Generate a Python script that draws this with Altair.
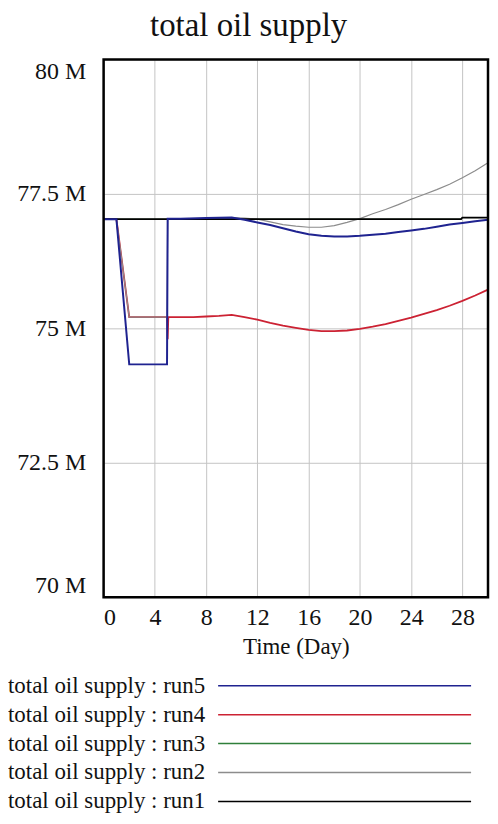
import altair as alt
import pandas as pd

# ---- data (values in millions) ----
run1_t = [0, 27.9, 28.0, 30]
run1_v = [77.03, 77.03, 77.06, 77.06]

run3_t = [0, 27.9, 28.0, 30]
run3_v = [77.03, 77.03, 77.06, 77.06]

run2_t = [0, 1, 2, 4.95, 5.0, 6, 8, 10, 11, 12, 13, 14, 15, 16, 17, 18, 19, 20,
          21, 22, 23, 24, 25, 26, 27, 28, 29, 30]
run2_v = [77.03, 77.03, 75.21, 75.21, 77.03, 77.04, 77.04, 77.06, 77.05, 77.03,
          76.98, 76.93, 76.90, 76.88, 76.88, 76.91, 76.97, 77.04, 77.13, 77.21,
          77.30, 77.40, 77.49, 77.58, 77.68, 77.80, 77.93, 78.08]

run4_t = [0, 1, 2, 4.95, 5.0, 5.05, 6, 7, 8, 9, 10, 11, 12, 13, 14, 15, 16, 17,
          18, 19, 20, 21, 22, 23, 24, 25, 26, 27, 28, 29, 30]
run4_v = [77.03, 77.03, 75.21, 75.21, 74.80, 75.21, 75.21, 75.21, 75.22, 75.23,
          75.25, 75.21, 75.16, 75.10, 75.05, 75.01, 74.97, 74.95, 74.95, 74.96,
          74.99, 75.03, 75.08, 75.14, 75.20, 75.27, 75.34, 75.42, 75.51, 75.61,
          75.72]

run5_t = [0, 1, 2, 4.95, 5.0, 6, 8, 10, 11, 12, 13, 14, 15, 16, 17, 18, 19, 20,
          21, 22, 23, 24, 25, 26, 27, 28, 29, 30]
run5_v = [77.03, 77.03, 74.33, 74.33, 77.04, 77.04, 77.05, 77.06, 77.02, 76.97,
          76.92, 76.86, 76.80, 76.75, 76.72, 76.71, 76.71, 76.72, 76.74, 76.76,
          76.79, 76.82, 76.85, 76.89, 76.93, 76.96, 76.99, 77.02]

runs = ["run3", "run4", "run2", "run1", "run5"]  # drawing order
series = {"run1": (run1_t, run1_v), "run2": (run2_t, run2_v), "run3": (run3_t, run3_v),
          "run4": (run4_t, run4_v), "run5": (run5_t, run5_v)}
colors = {"run5": "#1f2390", "run4": "#cc2233", "run3": "#2f7f3a",
          "run2": "#8c8c8c", "run1": "#000000"}
widths = {"run5": 2, "run4": 1.8, "run3": 0.8, "run2": 1.2, "run1": 1.8}

legend_names = ["total oil supply : run5", "total oil supply : run4",
                "total oil supply : run3", "total oil supply : run2",
                "total oil supply : run1"]
legend_runs = ["run5", "run4", "run3", "run2", "run1"]

y_ticks = [70, 72.5, 75, 77.5, 80]
x_grid = list(range(0, 31, 2))
x_domain = [0, 30]
y_domain = [70, 80]

rows = []
for r, (ts, vs) in series.items():
    for t, v in zip(ts, vs):
        rows.append({"run": r, "time": t, "value": v})
df = pd.DataFrame(rows)

FONT = "Liberation Serif"

x_enc = alt.X("time:Q",
              scale=alt.Scale(domain=x_domain, nice=False),
              axis=alt.Axis(values=x_grid, title="Time (Day)",
                            labelExpr="datum.value % 4 == 0 ? datum.value : ''",
                            grid=True, gridColor="#c4c4c4", gridWidth=1,
                            ticks=False, domain=False, labelPadding=8,
                            labelFontSize=24, labelFont=FONT, labelColor="#111",
                            titleFont=FONT, titleFontSize=23, titleFontWeight="normal",
                            titleColor="#111", titlePadding=7))
y_enc = alt.Y("value:Q",
              scale=alt.Scale(domain=y_domain, nice=False, zero=False),
              axis=alt.Axis(values=y_ticks, title=None,
                            labelExpr="datum.value + ' M'",
                            grid=True, gridColor="#c4c4c4", gridWidth=1,
                            ticks=False, domain=False, labelPadding=18,
                            labelFlush=True, labelFlushOffset=0,
                            labelFontSize=24, labelFont=FONT, labelColor="#111"))

layers = []
for r in runs:
    layers.append(
        alt.Chart(df).transform_filter(alt.datum.run == r).mark_line(
            color=colors[r], strokeWidth=widths[r], clip=True
        ).encode(x=x_enc, y=y_enc)
    )

frame = alt.Chart(pd.DataFrame({"x0": [x_domain[0]], "x1": [x_domain[1]],
                                "y0": [y_domain[0]], "y1": [y_domain[1]]})).mark_rect(
    filled=False, stroke="black", strokeWidth=2.5
).encode(x=alt.X("x0:Q", scale=alt.Scale(domain=x_domain, nice=False)),
         x2="x1:Q",
         y=alt.Y("y0:Q", scale=alt.Scale(domain=y_domain, nice=False, zero=False)),
         y2="y1:Q")

main = alt.layer(*layers, frame).properties(width=386, height=540)

leg_df = pd.DataFrame({"name": legend_names, "run": legend_runs})
leg_y = alt.Y("name:N", sort=legend_names, axis=None,
              scale=alt.Scale(type="point", padding=0))
leg_text = alt.Chart(leg_df).mark_text(
    align="left", baseline="middle", font=FONT, fontSize=23, color="#111"
).encode(x=alt.value(-96), y=leg_y, text="name:N")
leg_rule = alt.Chart(leg_df).mark_rule(strokeWidth=1.5).encode(
    x=alt.value(115), x2=alt.value(369), y=leg_y,
    color=alt.Color("run:N", scale=alt.Scale(domain=legend_runs,
                                             range=[colors[r] for r in legend_runs]),
                    legend=None),
)
legend = alt.layer(leg_text, leg_rule).properties(width=386, height=116)

chart = alt.vconcat(main, legend, spacing=16).properties(
    title=alt.TitleParams("total oil supply", font=FONT, fontSize=33,
                          fontWeight="normal", color="#111", anchor="middle",
                          offset=15),
    background="white",
    padding=0,
).configure_view(strokeWidth=0)

chart.save("out.html", embed_options={"renderer": "svg", "actions": False})
